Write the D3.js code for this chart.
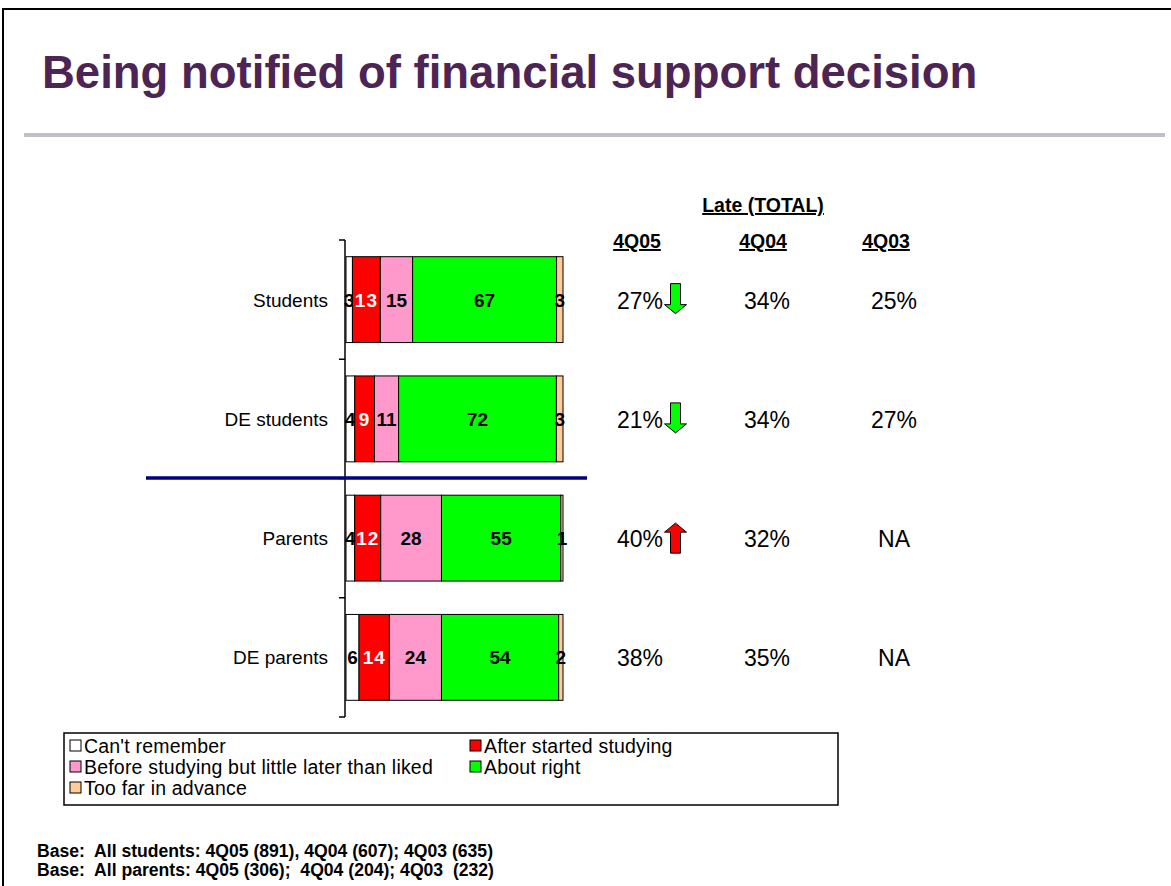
<!doctype html>
<html>
  <head>
    <title>Being notified of financial support decision</title>
    <style>
      body { margin: 0; background: #fff; }
      svg { display: block; font-family: Arial, "Liberation Sans", sans-serif; }
    </style>
  </head>
  <body>
    <svg id="chart" width="1171" height="886"></svg>
    <script src="https://d3js.org/d3.v7.min.js"></script>
    <script>
      // data
      const groups = ['Students', 'DE students', 'Parents', 'DE parents'];
      const seriesNames = [
        "Can't remember",
        'After started studying',
        'Before studying but little later than liked',
        'About right',
        'Too far in advance',
      ];
      const seriesColors = ['#ffffff', '#ff0000', '#ff99cc', '#00ff00', '#ffcc99'];
      const cantRemember = [3, 4, 4, 6];
      const afterStarted = [13, 9, 12, 14];
      const littleLater = [15, 11, 28, 24];
      const aboutRight = [67, 72, 55, 54];
      const tooFar = [3, 3, 1, 2];
      const waves = ['4Q05', '4Q04', '4Q03'];
      const late4Q05 = ['27%', '21%', '40%', '38%'];
      const late4Q04 = ['34%', '34%', '32%', '35%'];
      const late4Q03 = ['25%', '27%', 'NA', 'NA'];
      const trend = ['down', 'down', 'up', null]; // significant change arrows
      const baseNotes = [
        'Base:  All students: 4Q05 (891), 4Q04 (607); 4Q03 (635)',
        'Base:  All parents: 4Q05 (306);  4Q04 (204); 4Q03  (232)',
      ];

      const svg = d3.select('#chart');

      // slide frame
      svg.append('path')
        .attr('d', 'M3,1180 V9 H1200')
        .attr('fill', 'none')
        .attr('stroke', '#000')
        .attr('stroke-width', 2);

      svg.append('text')
        .attr('x', 42)
        .attr('y', 88)
        .attr('font-size', 45.5)
        .attr('font-weight', 'bold')
        .attr('fill', '#4d2554')
        .text('Being notified of financial support decision');

      svg.append('rect')
        .attr('x', 24).attr('y', 133)
        .attr('width', 1141).attr('height', 4)
        .attr('fill', '#c0c0c8');

      // stacked bars (100% stacked)
      const series = [cantRemember, afterStarted, littleLater, aboutRight, tooFar];
      const rows = groups.map((g, i) => {
        const r = { group: g };
        seriesNames.forEach((s, k) => (r[s] = series[k][i]));
        return r;
      });
      const stacked = d3.stack()
        .keys(seriesNames)
        .offset(d3.stackOffsetExpand)(rows);

      const x = d3.scaleLinear().domain([0, 1]).range([346, 563]);
      const y = d3.scaleBand()
        .domain(groups)
        .range([240, 717])
        .paddingInner(0.28)
        .paddingOuter(0.14);

      const layer = svg.append('g')
        .selectAll('g')
        .data(stacked)
        .join('g')
        .attr('fill', (d, k) => seriesColors[k]);

      layer.selectAll('rect')
        .data((d) => d)
        .join('rect')
        .attr('x', (d) => x(d[0]))
        .attr('y', (d) => y(d.data.group))
        .attr('width', (d) => x(d[1]) - x(d[0]))
        .attr('height', y.bandwidth())
        .attr('stroke', '#000')
        .attr('stroke-width', 1);

      layer.selectAll('text')
        .data((d, k) => d.map((p) => ({ p, k, key: d.key })))
        .join('text')
        .attr('x', (d) => (x(d.p[0]) + x(d.p[1])) / 2)
        .attr('y', (d) => y(d.p.data.group) + y.bandwidth() / 2 + 7)
        .attr('text-anchor', 'middle')
        .attr('font-size', 19)
        .attr('font-weight', 'bold')
        .attr('letter-spacing', (d) => (d.k === 1 ? 1 : 0))
        .attr('fill', (d) => (d.k === 1 ? '#fff' : '#000'))
        .text((d) => d.p.data[d.key]);

      // category axis with ticks between groups
      const axisG = svg.append('g').attr('transform', 'translate(345,0)');
      axisG.append('line')
        .attr('y1', 240).attr('y2', 717)
        .attr('stroke', '#000').attr('stroke-width', 1.5);
      const bounds = d3.range(groups.length + 1).map((i) => 240 + (i * (717 - 240)) / groups.length);
      axisG.selectAll('.tk')
        .data(bounds)
        .join('line')
        .attr('class', 'tk')
        .attr('x1', -6).attr('x2', 0)
        .attr('y1', (d) => d).attr('y2', (d) => d)
        .attr('stroke', '#000').attr('stroke-width', 1.5);
      axisG.selectAll('text')
        .data(groups)
        .join('text')
        .attr('x', -17)
        .attr('y', (d) => y(d) + y.bandwidth() / 2 + 7)
        .attr('text-anchor', 'end')
        .attr('font-size', 19)
        .attr('fill', '#000')
        .text((d) => d);

      // divider between students and parents
      svg.append('line')
        .attr('x1', 146).attr('x2', 587)
        .attr('y1', 478).attr('y2', 478)
        .attr('stroke', '#000080').attr('stroke-width', 3.5);

      // late (total) table
      const colX = [640, 767, 894];
      svg.append('text')
        .attr('x', 763).attr('y', 212)
        .attr('text-anchor', 'middle')
        .attr('font-size', 19.5)
        .attr('font-weight', 'bold')
        .attr('text-decoration', 'underline')
        .text('Late (TOTAL)');
      svg.selectAll('.wave')
        .data(waves)
        .join('text')
        .attr('class', 'wave')
        .attr('x', (d, i) => [637, 763, 886][i])
        .attr('y', 248)
        .attr('text-anchor', 'middle')
        .attr('font-size', 19.5)
        .attr('font-weight', 'bold')
        .attr('text-decoration', 'underline')
        .text((d) => d);

      [late4Q05, late4Q04, late4Q03].forEach((col, c) => {
        svg.selectAll('.v' + c)
          .data(col)
          .join('text')
          .attr('class', 'v' + c)
          .attr('x', colX[c])
          .attr('y', (d, i) => y(groups[i]) + y.bandwidth() / 2 + 9)
          .attr('text-anchor', 'middle')
          .attr('font-size', 23)
          .text((d) => d);
      });

      // arrows
      const downArrow = 'M-5,-15 H5 V6 H11 L0,15 L-11,6 H-5 Z';
      const upArrow = 'M-5,15 H5 V-6 H11 L0,-15 L-11,-6 H-5 Z';
      svg.selectAll('.arrow')
        .data(trend.map((t, i) => ({ t, g: groups[i] })).filter((d) => d.t))
        .join('path')
        .attr('class', 'arrow')
        .attr('transform', (d) => `translate(675.5,${y(d.g) + y.bandwidth() / 2 - (d.t === 'down' ? 1 : 0)})`)
        .attr('d', (d) => (d.t === 'down' ? downArrow : upArrow))
        .attr('fill', (d) => (d.t === 'down' ? '#00ff00' : '#ff0000'))
        .attr('stroke', '#000')
        .attr('stroke-width', 1);

      // legend
      const legend = svg.append('g');
      legend.append('rect')
        .attr('x', 64).attr('y', 733)
        .attr('width', 774).attr('height', 72)
        .attr('fill', '#fff')
        .attr('stroke', '#000').attr('stroke-width', 1.5);
      const legendPos = [[70, 746], [470, 746], [70, 767], [470, 767], [70, 788]];
      const item = legend.selectAll('g')
        .data(seriesNames)
        .join('g')
        .attr('transform', (d, i) => `translate(${legendPos[i][0]},${legendPos[i][1]})`);
      item.append('rect')
        .attr('x', 0).attr('y', -6)
        .attr('width', 11).attr('height', 11)
        .attr('fill', (d, i) => seriesColors[i])
        .attr('stroke', '#000').attr('stroke-width', 1);
      item.append('text')
        .attr('x', 14).attr('y', 7)
        .attr('font-size', 19.5)
        .attr('letter-spacing', 0.2)
        .text((d) => d);

      // footnotes
      svg.selectAll('.base')
        .data(baseNotes)
        .join('text')
        .attr('class', 'base')
        .attr('x', 37)
        .attr('y', (d, i) => 857 + i * 19)
        .attr('font-size', 17.6)
        .attr('font-weight', 'bold')
        .style('white-space', 'pre')
        .text((d) => d);
    </script>
  </body>
</html>
